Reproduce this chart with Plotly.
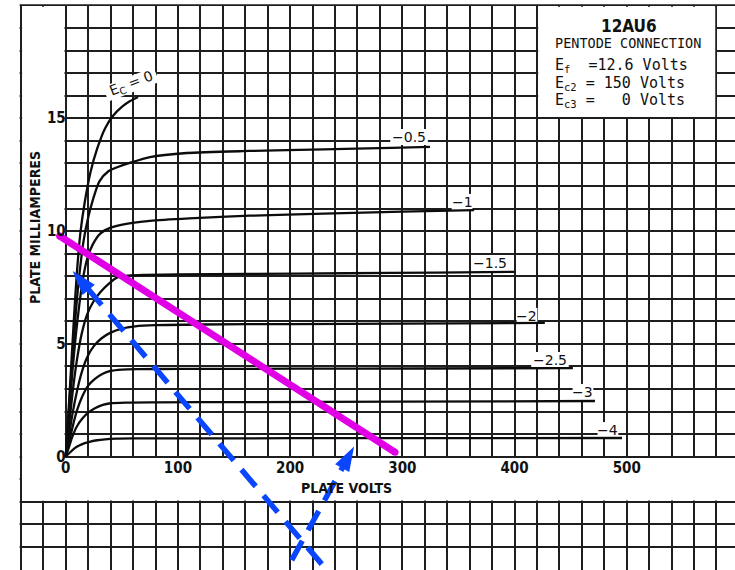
import math
import plotly.graph_objects as go

# ---------------------------------------------------------------------------
# 12AU6 pentode connection: plate current vs plate voltage, one curve per
# control-grid bias (Ef = 12.6 V, Ec2 = 150 V, Ec3 = 0 V).
# ---------------------------------------------------------------------------

bias_labels = ["E<sub>C</sub> = 0", "\u22120.5", "\u22121", "\u22121.5",
               "\u22122", "\u22122.5", "\u22123", "\u22124"]

# plate volts / plate milliamperes for each grid bias
ec0_v = [0, 2, 4, 6, 8, 10, 13, 17, 22, 28, 35, 42, 50, 57, 64.4]
ec0_ma = [0, 1.6, 3.3, 5.0, 6.7, 8.2, 9.9, 11.3, 12.6, 13.65, 14.55, 15.1, 15.5, 15.75, 15.94]

ec05_v = [0, 3, 6, 9, 12, 16, 20, 24, 30, 38, 47, 57, 75, 108, 164, 230, 290, 324.7]
ec05_ma = [0, 2.2, 4.4, 6.4, 8.0, 9.6, 10.6, 11.35, 12.2, 12.65, 12.85, 13.02, 13.28, 13.46,
           13.55, 13.62, 13.69, 13.73]

ec1_v = [0, 3, 6, 9, 12, 15, 19, 24, 31, 40, 54, 75, 110, 164, 230, 300, 364]
ec1_ma = [0, 1.9, 3.8, 5.4, 6.7, 7.8, 8.75, 9.4, 9.9, 10.15, 10.32, 10.45, 10.56, 10.68,
          10.77, 10.86, 10.93]

ec15_v = [0, 3, 6, 10, 14, 19, 25, 31, 38, 46, 56, 70, 100, 160, 250, 330, 399.6]
ec15_ma = [0, 1.4, 2.8, 4.3, 5.4, 6.3, 6.9, 7.3, 7.65, 7.95, 8.03, 8.06, 8.08, 8.1, 8.13,
           8.16, 8.19]

ec2_v = [0, 3, 6, 10, 14, 19, 25, 32, 40, 50, 62, 80, 120, 200, 300, 427]
ec2_ma = [0, 0.95, 1.9, 2.9, 3.7, 4.4, 4.9, 5.25, 5.5, 5.68, 5.78, 5.83, 5.86, 5.88, 5.9, 5.93]

ec25_v = [0, 3, 6, 10, 15, 20, 26, 33, 40, 50, 65, 100, 200, 320, 452]
ec25_ma = [0, 0.65, 1.3, 2.05, 2.7, 3.15, 3.45, 3.68, 3.8, 3.86, 3.88, 3.89, 3.9, 3.91, 3.93]

ec3_v = [0, 3, 6, 10, 15, 20, 26, 33, 40, 55, 80, 150, 300, 471.7]
ec3_ma = [0, 0.45, 0.9, 1.35, 1.7, 1.95, 2.15, 2.3, 2.37, 2.4, 2.41, 2.42, 2.44, 2.47]

ec4_v = [0, 4, 8, 12, 17, 22, 28, 35, 45, 60, 100, 200, 350, 495.8]
ec4_ma = [0, 0.2, 0.38, 0.5, 0.6, 0.67, 0.73, 0.77, 0.8, 0.81, 0.81, 0.82, 0.82, 0.83]

# where each bias label sits (plate volts, plate mA)
label_v = [58.2, 306, 353.2, 378.2, 411.1, 431.6, 461, 483.3]
label_ma = [16.5, 14.17, 11.29, 8.59, 6.24, 4.29, 2.87, 1.18]
label_angle = [-21, 0, 0, 0, 0, 0, 0, 0]
label_chars = [6, 4, 2, 4, 2, 4, 2, 2]

# load line
load_v = [-5.5, 293.5]
load_ma = [9.78, 0.2]

# two dashed arrows (tail, tip)
arrow_a_v = [228.2, 6.2]
arrow_a_ma = [-4.76, 8.23]
arrow_b_v = [201.4, 257.0]
arrow_b_ma = [-4.58, 0.45]

x_ticks = [0, 100, 200, 300, 400, 500]
y_tickvals = [-5, 0, 5, 10, 15, 20]
y_ticktext = ["", "0", "5", "10", "15", ""]

curves = [(ec0_v, ec0_ma), (ec05_v, ec05_ma), (ec1_v, ec1_ma), (ec15_v, ec15_ma),
          (ec2_v, ec2_ma), (ec25_v, ec25_ma), (ec3_v, ec3_ma), (ec4_v, ec4_ma)]

# ---------------------------------------------------------------------------
W, H = 735, 570
X_RANGE = [-58.6, 596.5]
Y_RANGE = [-5.02, 20.24]
PX_PER_V = W / (X_RANGE[1] - X_RANGE[0])
PX_PER_MA = H / (Y_RANGE[1] - Y_RANGE[0])
FRAME_V = -40        # left edge of the printed graph paper
TOP_MA = 20          # top edge of the printed graph paper
STRIP_MA = -2        # lower edge of the label strip under the axis
BOX_V = (420, 580)   # title block
BOX_MA = (15, 20)

INK = "#1e1e1e"
TICK_FONT = dict(family="DejaVu Sans Condensed, Liberation Sans Narrow, DejaVu Sans",
                 size=15, color="#111", weight="bold")
LABEL_FONT = dict(family="DejaVu Sans, Liberation Sans", size=14, color="#111")
MONO = dict(family="DejaVu Sans Mono, Liberation Mono", color="#111")

fig = go.Figure()

for v, ma in curves:
    fig.add_trace(go.Scatter(x=v, y=ma, mode="lines",
                             line=dict(color="#0c0c0c", width=2.3, shape="spline",
                                       smoothing=0.7),
                             hoverinfo="skip", showlegend=False))

fig.add_trace(go.Scatter(x=load_v, y=load_ma, mode="lines+markers",
                         line=dict(color="#e100e6", width=7),
                         marker=dict(color="#e100e6", size=7),
                         hoverinfo="skip", showlegend=False))

for av, ama in [(arrow_a_v, arrow_a_ma), (arrow_b_v, arrow_b_ma)]:
    fig.add_trace(go.Scatter(x=av, y=ama, mode="lines+markers",
                             line=dict(color="#0b46ff", width=5.5, dash="22px,12px"),
                             marker=dict(symbol="arrow", size=26, angleref="previous",
                                         color="#0b46ff", line=dict(width=0)),
                             hoverinfo="skip", showlegend=False))

# white areas of the printed sheet (above the grid, below the curves)
dv, dm = 1.1, 0.055
masks = [
    (X_RANGE[0], FRAME_V - dv, Y_RANGE[0], Y_RANGE[1]),          # outside left frame
    (X_RANGE[0], X_RANGE[1], TOP_MA + dm, Y_RANGE[1]),           # above top frame
    (FRAME_V + dv, -dv, STRIP_MA + dm, TOP_MA - dm),              # y-label panel
    (FRAME_V + dv, X_RANGE[1], STRIP_MA + dm, -dm),               # x-label strip
    (BOX_V[0] + dv, BOX_V[1] - dv, BOX_MA[0] + dm, BOX_MA[1] - dm),  # title block
]
for x0, x1, y0, y1 in masks:
    fig.add_shape(type="rect", xref="x", yref="y", x0=x0, x1=x1, y0=y0, y1=y1,
                  fillcolor="white", line=dict(width=0), layer="between")


def label_gap(cv, cm, nchar, angle):
    """White patch that breaks the grid behind a curve label (drawn under the curves)."""
    hw, hh = (8.4 * nchar + 4) / 2, 8.0
    a = math.radians(angle)
    pts = []
    for sx, sy in [(-1, -1), (1, -1), (1, 1), (-1, 1)]:
        px, py = sx * hw, sy * hh
        rx = px * math.cos(a) - py * math.sin(a)
        ry = px * math.sin(a) + py * math.cos(a)
        pts.append((cv + rx / PX_PER_V, cm + ry / PX_PER_MA))
    return "M" + " L".join(f"{x:.3f},{y:.3f}" for x, y in pts) + " Z"


# curve labels
for txt, lv, lm, ang, nc in zip(bias_labels, label_v, label_ma, label_angle, label_chars):
    fig.add_shape(type="path", xref="x", yref="y", path=label_gap(lv, lm, nc, -ang),
                  fillcolor="white", line=dict(width=0), layer="between")
    fig.add_annotation(x=lv, y=lm, text=txt, showarrow=False, font=LABEL_FONT,
                       textangle=ang)

# axis titles
fig.add_annotation(x=249.8, y=-1.39, text="PLATE VOLTS", showarrow=False,
                   font=dict(TICK_FONT, size=14))
fig.add_annotation(x=-27.4, y=10.14, text="PLATE MILLIAMPERES", showarrow=False,
                   textangle=-90, font=dict(TICK_FONT, size=14))

# title block
fig.add_annotation(x=502, y=19.09, text="12AU6", showarrow=False,
                   font=dict(TICK_FONT, size=17))
fig.add_annotation(x=501, y=18.34, text="PENTODE CONNECTION", showarrow=False,
                   font=dict(MONO, size=13.5))
for txt, lm in [("E<sub>f</sub>\u00a0\u00a0=12.6 Volts", 17.32),
                ("E<sub>c2</sub> = 150 Volts", 16.52),
                ("E<sub>c3</sub> =\u00a0\u00a0\u00a00 Volts", 15.77)]:
    fig.add_annotation(x=434.3, y=lm, text=txt, showarrow=False, xanchor="left",
                       font=dict(MONO, size=15))

x_pos = (0 - Y_RANGE[0]) / (Y_RANGE[1] - Y_RANGE[0])
y_pos = (0 - X_RANGE[0]) / (X_RANGE[1] - X_RANGE[0])

fig.update_layout(
    width=W, height=H, autosize=False,
    margin=dict(l=0, r=0, t=0, b=0, pad=0),
    paper_bgcolor="white", plot_bgcolor="white",
    xaxis=dict(range=X_RANGE, tickmode="array", tickvals=x_ticks,
               showgrid=True, gridcolor=INK, gridwidth=2.1,
               minor=dict(tickmode="linear", tick0=0, dtick=20, showgrid=True,
                          gridcolor=INK, gridwidth=1.5),
               zeroline=False, showline=False, ticks="",
               anchor="free", position=x_pos, tickfont=TICK_FONT,
               automargin=False, fixedrange=True),
    yaxis=dict(range=Y_RANGE, tickmode="array", tickvals=y_tickvals, ticktext=y_ticktext,
               showgrid=True, gridcolor=INK, gridwidth=2.1,
               minor=dict(tickmode="linear", tick0=0, dtick=1, showgrid=True,
                          gridcolor=INK, gridwidth=1.5),
               zeroline=False, showline=False, ticks="",
               anchor="free", position=y_pos, tickfont=TICK_FONT,
               automargin=False, fixedrange=True),
)

fig.write_html("out.html")
